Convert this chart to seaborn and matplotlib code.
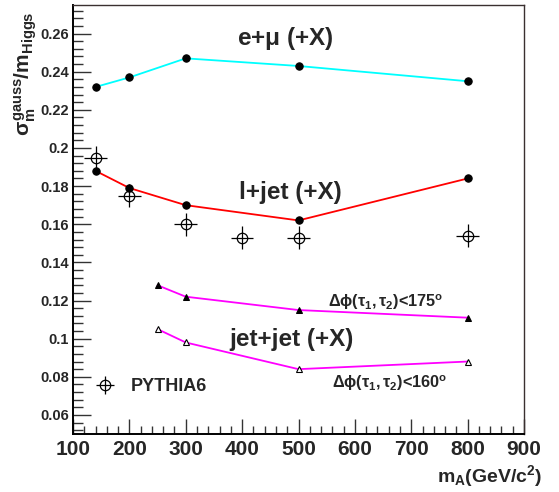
import matplotlib
matplotlib.use('Agg')
from matplotlib import pyplot as plt
import matplotlib.ticker as ticker
import seaborn as sns
import pandas as pd

# values
m_emu = [140, 200, 300, 500, 800]
res_emu = [0.232, 0.237, 0.247, 0.243, 0.235]

m_ljet = [140, 200, 300, 500, 800]
res_ljet = [0.188, 0.179, 0.170, 0.162, 0.184]

m_jj = [250, 300, 500, 800]
res_jj_175 = [0.128, 0.122, 0.115, 0.111]
res_jj_160 = [0.105, 0.098, 0.084, 0.088]

m_pythia = [140, 200, 300, 400, 500, 800]
res_pythia = [0.195, 0.175, 0.160, 0.153, 0.153, 0.154]
xerr_pythia = 20
yerr_pythia = 0.006

x_ticks = [100, 200, 300, 400, 500, 600, 700, 800, 900]
y_ticks = [0.06, 0.08, 0.1, 0.12, 0.14, 0.16, 0.18, 0.2, 0.22, 0.24, 0.26]

sns.set_style('white')
plt.rcParams['font.family'] = ['Liberation Sans', 'DejaVu Sans']
plt.rcParams['font.weight'] = 'bold'
plt.rcParams['axes.labelweight'] = 'bold'
plt.rcParams['mathtext.fontset'] = 'custom'
plt.rcParams['mathtext.rm'] = 'Liberation Sans:bold'
plt.rcParams['mathtext.it'] = 'Liberation Sans:bold'
plt.rcParams['mathtext.bf'] = 'Liberation Sans:bold'

fig = plt.figure(figsize=(5.59, 4.92), dpi=100)
ax = fig.add_axes([0.1306, 0.1179, 0.8068, 0.872])

df_emu = pd.DataFrame({'m': m_emu, 'res': res_emu})
df_ljet = pd.DataFrame({'m': m_ljet, 'res': res_ljet})
df_jj = pd.DataFrame({'m': m_jj, 'r175': res_jj_175, 'r160': res_jj_160})

sns.lineplot(data=df_emu, x='m', y='res', color='#00ffff', lw=1.3,
             marker='o', markersize=5.3, markerfacecolor='black',
             markeredgecolor='black', ax=ax)
sns.lineplot(data=df_ljet, x='m', y='res', color='#ff0000', lw=1.3,
             marker='o', markersize=5.3, markerfacecolor='black',
             markeredgecolor='black', ax=ax)
sns.lineplot(data=df_jj, x='m', y='r175', color='#ff00ff', lw=1.3,
             marker='^', markersize=4.5, markerfacecolor='black',
             markeredgecolor='black', ax=ax)
sns.lineplot(data=df_jj, x='m', y='r160', color='#ff00ff', lw=1.3,
             marker='^', markersize=4.5, markerfacecolor='white',
             markeredgecolor='black', markeredgewidth=0.8, ax=ax)

ax.errorbar(m_pythia, res_pythia, xerr=xerr_pythia, yerr=yerr_pythia,
            fmt='o', markersize=7.5, markerfacecolor='none',
            markeredgecolor='black', markeredgewidth=0.9,
            ecolor='black', elinewidth=0.9, capsize=0, label='PYTHIA6')

ax.legend(loc='center left', bbox_to_anchor=(0.003, 0.11), frameon=False,
          handlelength=1.6, handletextpad=0.6,
          prop={'size': 13, 'weight': 'bold'})

ax.text(476, 0.2574, r'e+$\mu$ (+X)', fontsize=17.5, fontweight='bold',
        ha='center', va='center')
ax.text(485, 0.1768, 'l+jet (+X)', fontsize=17.5, fontweight='bold',
        ha='center', va='center')
ax.text(487, 0.0993, 'jet+jet (+X)', fontsize=17.5, fontweight='bold',
        ha='center', va='center')
ax.text(552, 0.1192, r'$\Delta\phi(\tau_1,\tau_2)$<175$^o$', fontsize=11.7,
        ha='left', va='center')
ax.text(559, 0.0768, r'$\Delta\phi(\tau_1,\tau_2)$<160$^o$', fontsize=11.7,
        ha='left', va='center')

ax.set_xlim(100, 900)
ax.set_ylim(0.05, 0.275)
ax.set_xticks(x_ticks)
ax.set_yticks(y_ticks)
ax.xaxis.set_minor_locator(ticker.MultipleLocator(20))
ax.yaxis.set_minor_locator(ticker.MultipleLocator(0.004))
ax.yaxis.set_major_formatter(ticker.FormatStrFormatter('%g'))
ax.tick_params(axis='both', which='both', direction='in', top=False,
               right=False, bottom=True, left=True, width=1,
               color='#333333')
ax.tick_params(axis='y', which='major', length=13, labelsize=10.5, pad=3)
ax.tick_params(axis='y', which='minor', length=7)
ax.tick_params(axis='x', which='major', length=11, labelsize=15, pad=4)
ax.tick_params(axis='x', which='minor', length=5.5)
for lab in ax.get_xticklabels() + ax.get_yticklabels():
    lab.set_fontweight('bold')

ax.set_xlabel(r'm$_A$(GeV/c$^2$)', fontsize=14, fontweight='bold', loc='right')
ax.xaxis.set_label_coords(1.04, -0.068)
ax.set_ylabel(r'$\sigma_m^{gauss}$/m$_{Higgs}$', fontsize=15, fontweight='bold',
              loc='top')
ax.yaxis.set_label_coords(-0.075, 0.985)

for side in ['left', 'bottom']:
    ax.spines[side].set_linewidth(1.4)
    ax.spines[side].set_color('black')
for side in ['top', 'right']:
    ax.spines[side].set_linewidth(1.0)
    ax.spines[side].set_color('#3a3030')

fig.savefig('out.png', dpi=100)
